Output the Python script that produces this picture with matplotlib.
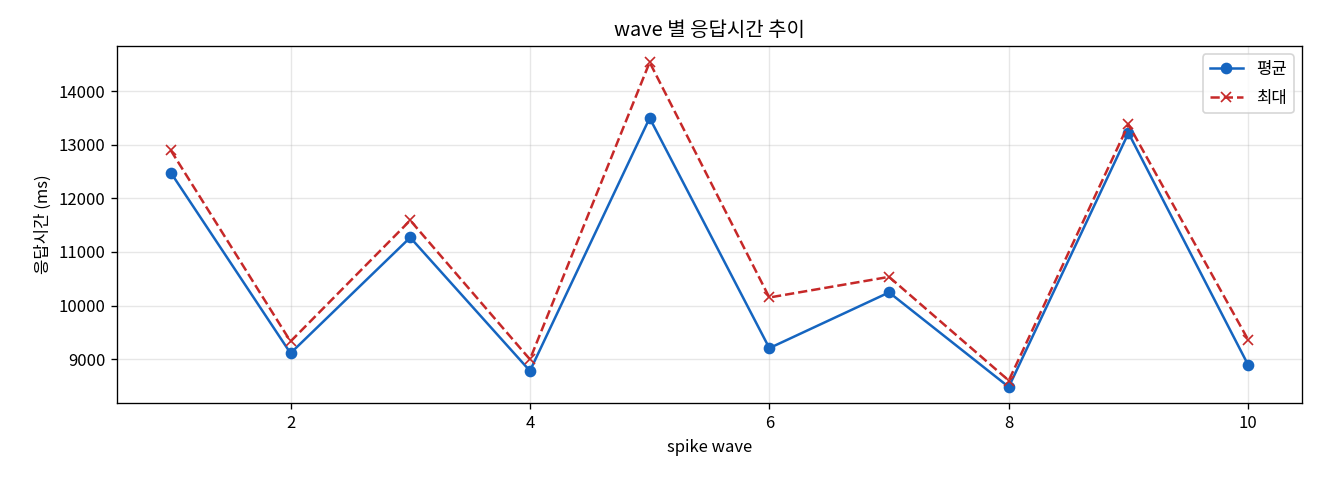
import matplotlib
matplotlib.use('Agg')
import matplotlib.pyplot as plt

plt.rcParams['font.family'] = ['Noto Sans CJK KR', 'DejaVu Sans']
plt.rcParams['axes.unicode_minus'] = False

waves = [1, 2, 3, 4, 5, 6, 7, 8, 9, 10]
avg_ms = [12480, 9110, 11270, 8780, 13500, 9205, 10245, 8480, 13220, 8890]
max_ms = [12895, 9330, 11590, 8995, 14540, 10150, 10535, 8600, 13380, 9360]

fig, ax = plt.subplots(figsize=(11, 4), dpi=120)
ax.plot(waves, avg_ms, marker='o', color='#1565C0', label='평균')
ax.plot(waves, max_ms, marker='x', linestyle='--', color='#C62828', label='최대')

ax.set_title('wave 별 응답시간 추이')
ax.set_xlabel('spike wave')
ax.set_ylabel('응답시간 (ms)')
ax.grid(True, alpha=0.3)
ax.legend(labelspacing=0.7)

fig.subplots_adjust(left=0.0886, right=0.9864, top=0.904, bottom=0.160)
plt.savefig('out.png')
